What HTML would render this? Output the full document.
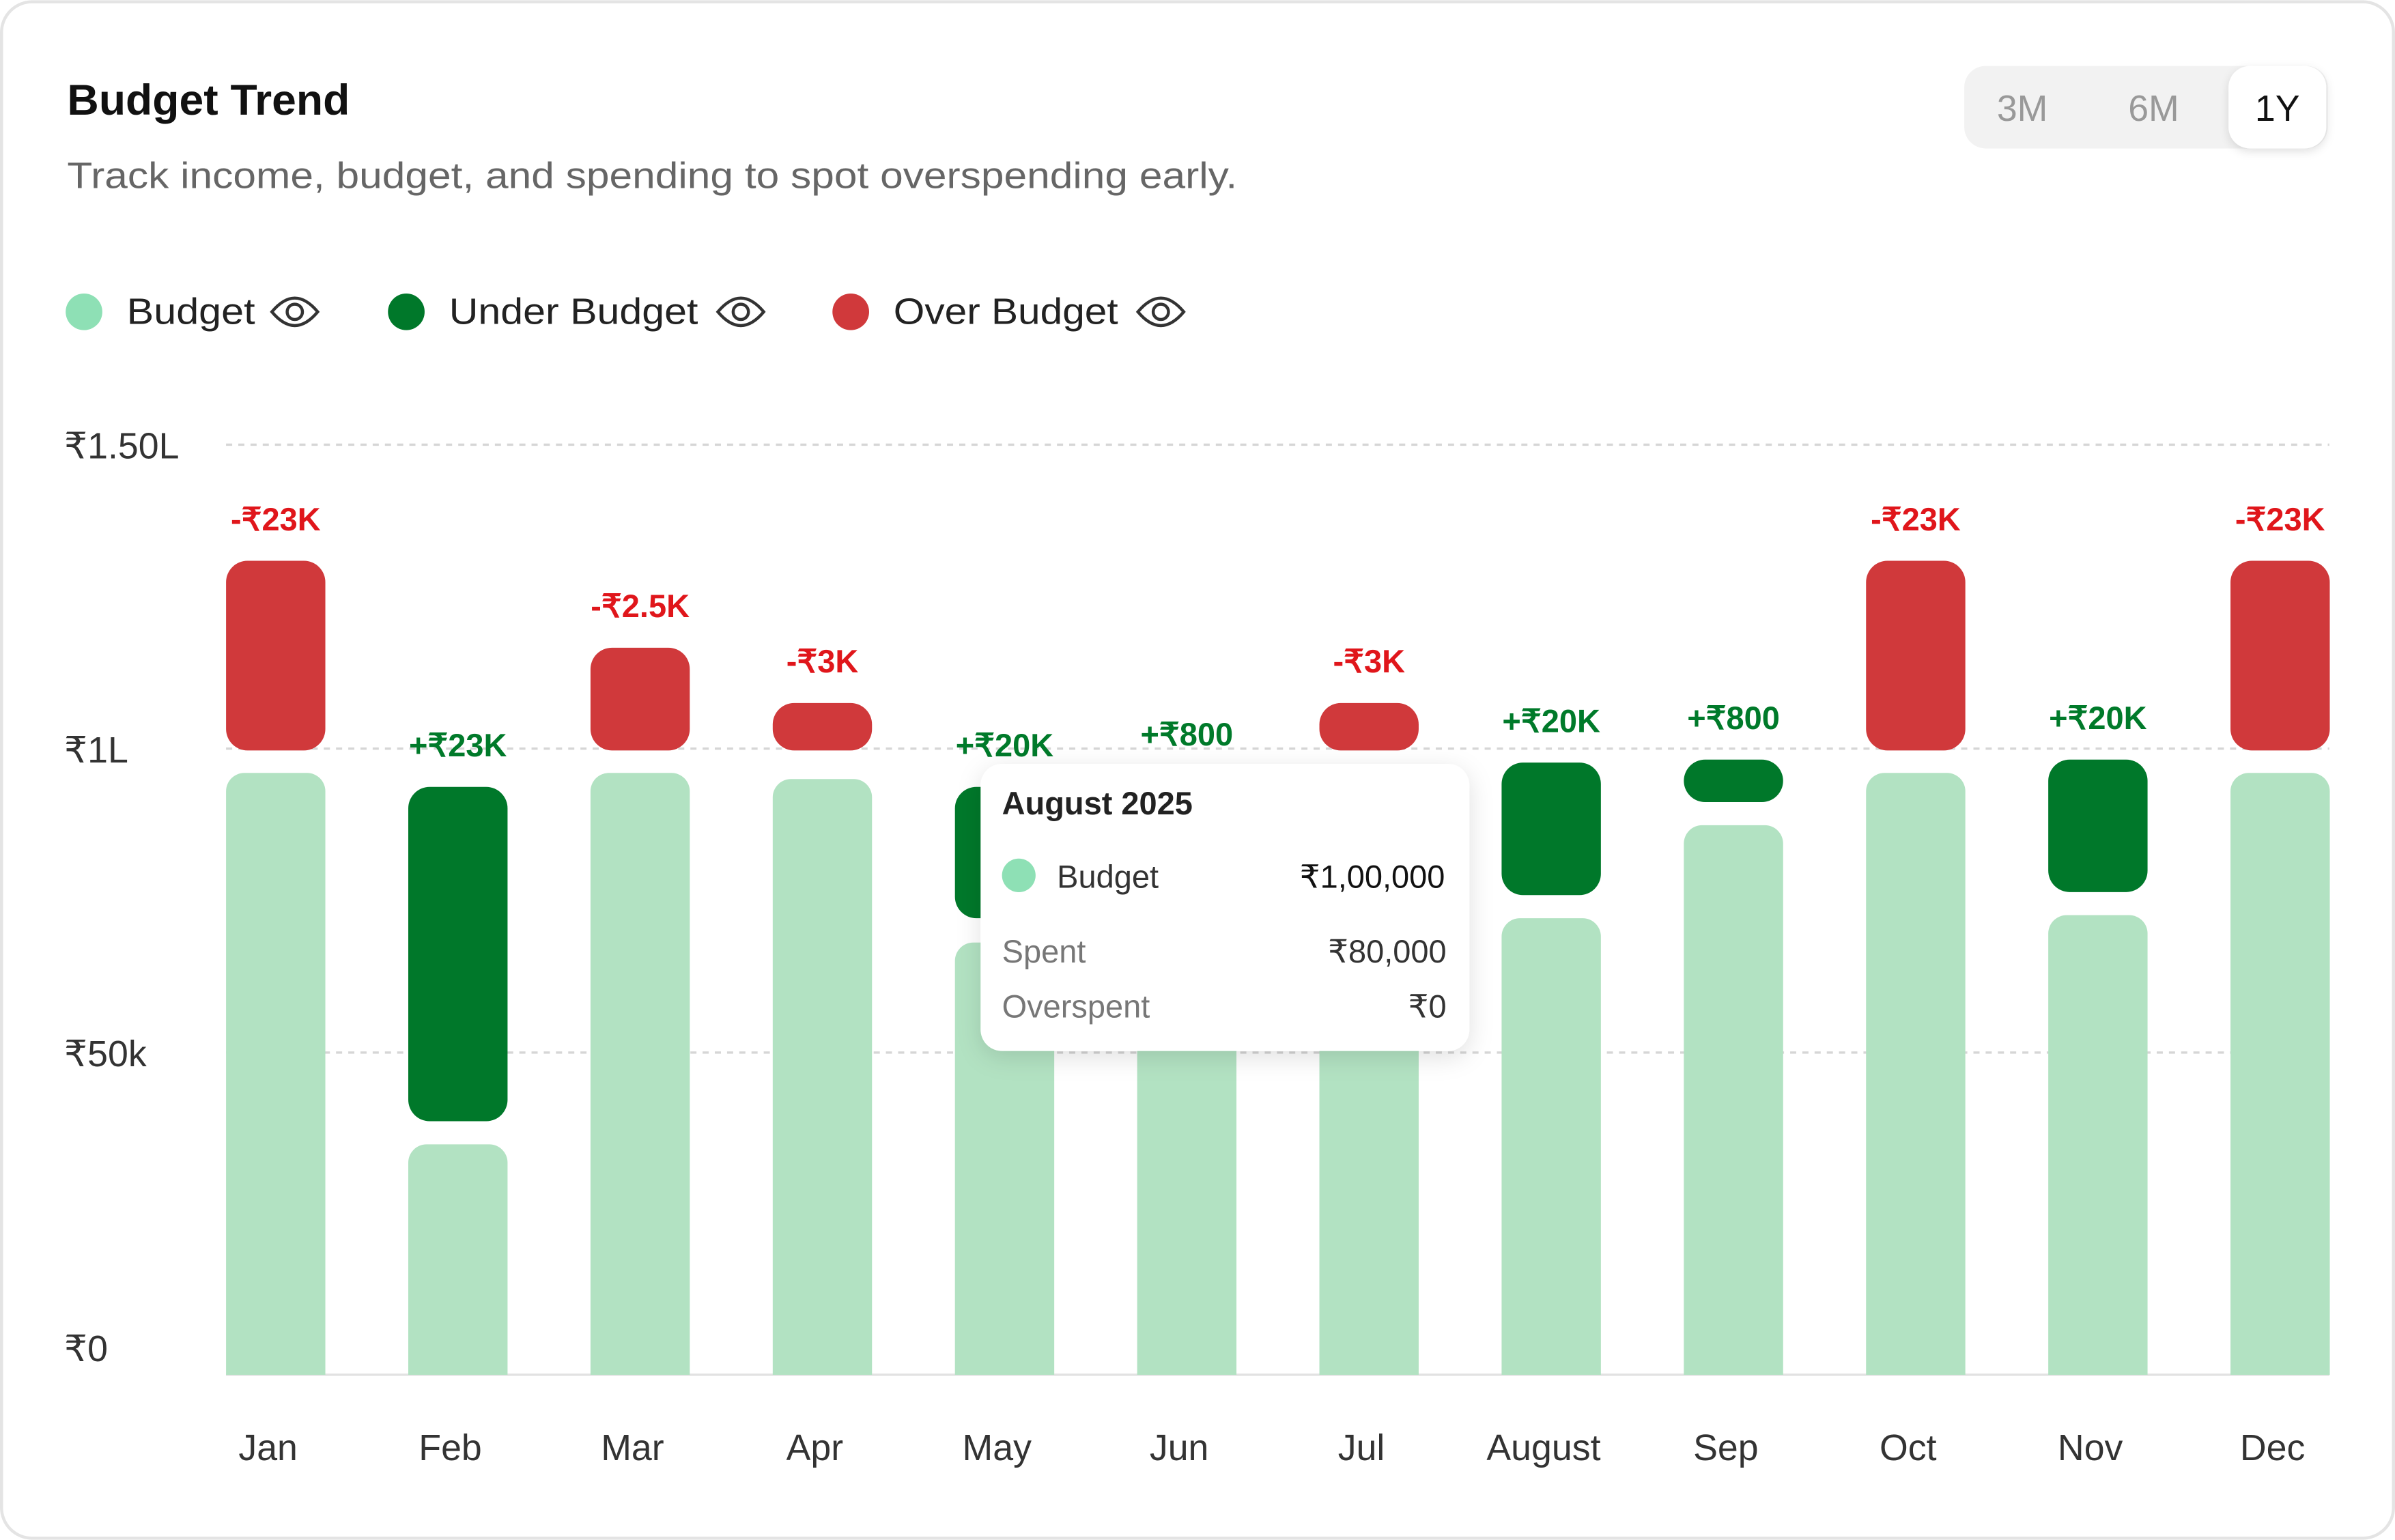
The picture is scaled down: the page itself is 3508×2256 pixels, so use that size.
<!DOCTYPE html>
<html><head><meta charset="utf-8"><style>
html,body{margin:0;padding:0;background:#fff}
svg{display:block}
text{font-family:"Liberation Sans","Noto Sans CJK SC",sans-serif}
</style></head><body>
<svg id="c" width="3508" height="2256" viewBox="0 0 1568 1008" xmlns="http://www.w3.org/2000/svg">
<defs><filter id="sh" x="-20%" y="-20%" width="140%" height="150%"><feDropShadow dx="0" dy="4" stdDeviation="8" flood-color="#000" flood-opacity="0.12"/></filter>
<filter id="sh2" x="-20%" y="-20%" width="140%" height="150%"><feDropShadow dx="0" dy="2" stdDeviation="3" flood-color="#000" flood-opacity="0.12"/></filter></defs>
<rect x="1" y="1" width="1566" height="1006" rx="20" fill="#fff" stroke="#e4e4e4" stroke-width="2"/>
<text x="44" y="75" font-size="28" font-weight="bold" fill="#111" textLength="185" lengthAdjust="spacingAndGlyphs">Budget Trend</text>
<text x="44" y="123" font-size="24" fill="#666" textLength="766" lengthAdjust="spacingAndGlyphs">Track income, budget, and spending to spot overspending early.</text>
<g>
<rect x="1286" y="43" width="238" height="54" rx="14" fill="#f2f2f2"/>
<text x="1324" y="79" font-size="24" fill="#999" text-anchor="middle">3M</text>
<text x="1410" y="79" font-size="24" fill="#999" text-anchor="middle">6M</text>
<rect x="1459" y="43" width="64" height="54" rx="14" fill="#fff" filter="url(#sh2)"/>
<text x="1491" y="79" font-size="24" fill="#111" text-anchor="middle">1Y</text>
</g>
<g id="legend"></g>
<g id="grid"></g>
<g id="bars"></g>
<g id="xaxis"></g>
<g filter="url(#sh)">
<rect x="642" y="500" width="320" height="188" rx="14" fill="#fff"/>
</g>
<g>
<text x="656" y="533" font-size="21" font-weight="bold" fill="#222">August 2025</text>
<circle cx="667" cy="573" r="11" fill="#8ee0b5"/>
<text x="692" y="581" font-size="21" fill="#333">Budget</text>
<text x="946" y="581" font-size="21" fill="#111" text-anchor="end">₹1,00,000</text>
<text x="656" y="630" font-size="21" fill="#777">Spent</text>
<text x="947" y="630" font-size="21" fill="#333" text-anchor="end">₹80,000</text>
<text x="656" y="666" font-size="21" fill="#777">Overspent</text>
<text x="947" y="666" font-size="21" fill="#333" text-anchor="end">₹0</text>
</g>
</svg>
<script>
var months=["Jan","Feb","Mar","Apr","May","Jun","Jul","August","Sep","Oct","Nov","Dec"];
var budgetBase=[96000,34900,96000,95000,68100,80000,96000,72100,87400,96000,72600,96000];
var segLow=[99700,38700,99700,99700,72100,84000,99700,75900,91200,99700,76400,99700];
var segHigh=[130900,93700,116600,107500,93700,95500,107500,97700,98200,130900,98200,130900];
var segOver=[1,0,1,1,0,0,1,0,0,1,0,1];
var diffLabels=["-₹23K","+₹23K","-₹2.5K","-₹3K","+₹20K","+₹800","-₹3K","+₹20K","+₹800","-₹23K","+₹20K","-₹23K"];
var yTicks=[0,50000,100000,150000];
var yTickLabels=["₹0","₹50k","₹1L","₹1.50L"];
var NS="http://www.w3.org/2000/svg";
function y(v){return 888-v*0.00398;}
function xc(i){return 180.5+i*119.3;}
var BW=65,BOTTOM=900;
function mk(t,a,p){var e=document.createElementNS(NS,t);for(var k in a)e.setAttribute(k,a[k]);p.appendChild(e);return e;}
var grid=document.getElementById('grid');
yTicks.forEach(function(v,i){
  var yy=y(v);
  if(v>0){var l=mk('line',{x1:148,x2:1525,y1:yy,y2:yy,stroke:'#d6d6d6','stroke-width':1.5,'stroke-dasharray':'4 4'},grid);
  
  }
  var t=mk('text',{x:42,y:yy+(v==0?3:9),'font-size':24,fill:'#333'},grid);t.textContent=yTickLabels[i];
  
  
});
var bl=mk('line',{x1:148,x2:1525,y1:BOTTOM,y2:BOTTOM,stroke:'#e2e2e2','stroke-width':1.5},grid);


var bars=document.getElementById('bars'),xa=document.getElementById('xaxis');
months.forEach(function(m,i){
  var x=xc(i)-BW/2;
  var b=mk('path',{d:'M'+x+','+BOTTOM+'V'+(y(budgetBase[i])+12)+'a12,12 0 0 1 12,-12h'+(BW-24)+'a12,12 0 0 1 12,12V'+BOTTOM+'Z',fill:'#b2e2c2'},bars);
  
  
  var top=y(segHigh[i]),h=y(segLow[i])-top;
  var s=mk('rect',{x:x,y:top,width:BW,height:h,rx:Math.min(14,h/2),fill:segOver[i]?'#d0393b':'#00782a'},bars);
  
  
  var t=mk('text',{x:xc(i),y:top-20,'font-size':21,'font-weight':'bold','text-anchor':'middle',fill:segOver[i]?'#e0161b':'#007a2a'},bars);
  t.textContent=diffLabels[i];
  
  
  var ml=mk('text',{x:xc(i)-5,y:956,'font-size':24,'text-anchor':'middle',fill:'#333'},xa);ml.textContent=m;
  
  
});
var legend=document.getElementById('legend');
var legNames=["Budget","Under Budget","Over Budget"],legColors=["#8ee0b5","#00782a","#d0393b"],legX=[55,266,557],eyeX=[193,485,760],legW=[84,163,147];
legNames.forEach(function(n,i){
  var g=mk('g',{},legend);
  
  
  mk('circle',{cx:legX[i],cy:204,r:12,fill:legColors[i]},g);
  var t=mk('text',{x:legX[i]+28,y:212,'font-size':24,fill:'#222',textLength:legW[i],lengthAdjust:'spacingAndGlyphs'},g);t.textContent=n;
  var e=mk('g',{fill:'none',stroke:'#333','stroke-width':2},g);
  
  
  var c=eyeX[i];
  mk('path',{d:'M'+(c-15)+',204 Q'+c+',186 '+(c+15)+',204 Q'+c+',222 '+(c-15)+',204Z'},e);
  mk('circle',{cx:c,cy:204,r:5},e);
});
</script>
</body></html>
